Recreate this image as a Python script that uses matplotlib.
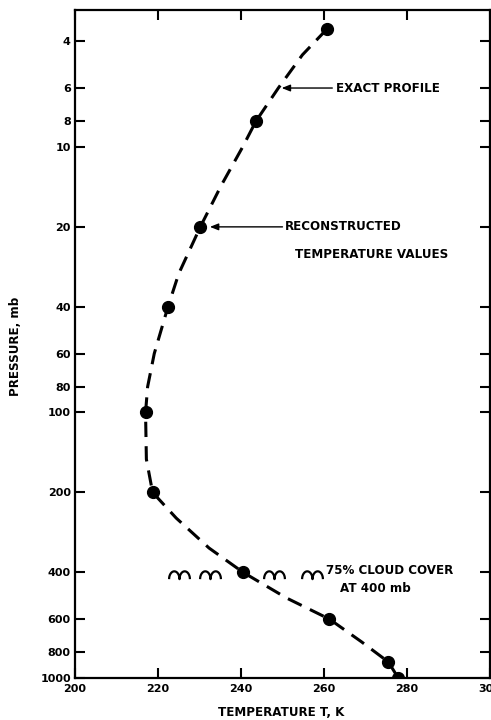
import numpy as np
import matplotlib
matplotlib.use("Agg")
import matplotlib.pyplot as plt
from matplotlib.ticker import FixedLocator, NullLocator
from matplotlib.path import Path

# ---- data ----
recon_p = [3.6, 8, 20, 40, 100, 200, 400, 600, 870, 1000]
recon_T = [260.7, 243.6, 230.2, 222.4, 217.0, 218.7, 240.5, 261.3, 275.5, 277.9]

exact_p = [3.6, 4.5, 6, 8, 10, 14, 20, 30, 40, 60, 80, 100, 150, 200, 250, 324,
           400, 500, 600, 730, 870, 1000]
exact_T = [260.7, 254.8, 249.0, 243.6, 240.4, 235.2, 230.2, 225.0, 222.4, 219.1, 217.5,
           217.0, 217.2, 218.7, 224.4, 232.3, 240.5, 251.0, 261.3, 269.0, 275.5, 277.9]

cloud_T = [225.1, 232.6, 247.9, 257.0]
cloud_p = [410, 410, 410, 410]

y_ticks = [4, 6, 8, 10, 20, 40, 60, 80, 100, 200, 400, 600, 800, 1000]
x_ticks = [200, 220, 240, 260, 280, 300]

fig = plt.figure(figsize=(4.91, 7.2), dpi=100)
ax = fig.add_axes([75/491, 1-678/720, 415/491, (678-10)/720])

ax.set_yscale('log')
ax.set_xlim(200, 300)
ax.set_ylim(1000, 3.05)

ax.plot(exact_T, exact_p, color='black', lw=2.2, ls=(0, (5, 3)), zorder=2)
ax.plot(recon_T, recon_p, ls='none', marker='o', ms=8.5, color='black', zorder=3)

# cloud symbol: two arches
th = np.linspace(np.pi, 0, 20)
left = np.column_stack([-0.5 + 0.5*np.cos(th), 0.75*np.sin(th) - 0.35])
right = np.column_stack([0.5 + 0.5*np.cos(th), 0.75*np.sin(th) - 0.35])
verts = np.vstack([left, right[1:]])
codes = [Path.MOVETO] + [Path.LINETO]*(len(verts)-1)
cloud_marker = Path(verts, codes)
ax.plot(cloud_T, cloud_p, ls='none', marker=cloud_marker, ms=15,
        mfc='none', mec='black', mew=1.6, zorder=3)

lab_font = dict(family='DejaVu Sans', fontsize=8.6, fontweight='bold')

ax.annotate('', xy=(249.8, 6), xytext=(262.0, 6),
            arrowprops=dict(arrowstyle='-|>,head_length=0.5,head_width=0.2',
                            color='black', lw=1.0, shrinkA=0, shrinkB=0))
ax.text(262.9, 6, 'EXACT PROFILE', ha='left', va='center', **lab_font)

ax.annotate('', xy=(232.5, 20), xytext=(250.0, 20),
            arrowprops=dict(arrowstyle='-|>,head_length=0.5,head_width=0.2',
                            color='black', lw=1.0, shrinkA=0, shrinkB=0))
ax.text(250.5, 20, 'RECONSTRUCTED', ha='left', va='center', **lab_font)
ax.text(252.9, 25.5, 'TEMPERATURE VALUES', ha='left', va='center', **lab_font)

ax.text(260.6, 395, '75% CLOUD COVER', ha='left', va='center', **lab_font)
ax.text(263.8, 460, 'AT 400 mb', ha='left', va='center', **lab_font)

ax.yaxis.set_major_locator(FixedLocator(y_ticks))
ax.yaxis.set_minor_locator(NullLocator())
ax.set_yticklabels([str(v) for v in y_ticks])
ax.xaxis.set_major_locator(FixedLocator(x_ticks))
ax.set_xticklabels([str(v) for v in x_ticks])

ax.tick_params(axis='both', which='major', direction='in', length=7, width=1.5,
               labelsize=8, pad=3)
ax.tick_params(axis='y', right=True)
ax.tick_params(axis='x', top=True, pad=4)
for lbl in ax.get_xticklabels() + ax.get_yticklabels():
    lbl.set_fontweight('bold')

for s in ax.spines.values():
    s.set_linewidth(1.6)

fig.text(16/491, 1-346/720, 'PRESSURE, mb', rotation=90, ha='center', va='center',
         **lab_font)
fig.text(281/491, 1-712/720, 'TEMPERATURE T, K', ha='center', va='center', **lab_font)

fig.savefig('out.png', dpi=100)
